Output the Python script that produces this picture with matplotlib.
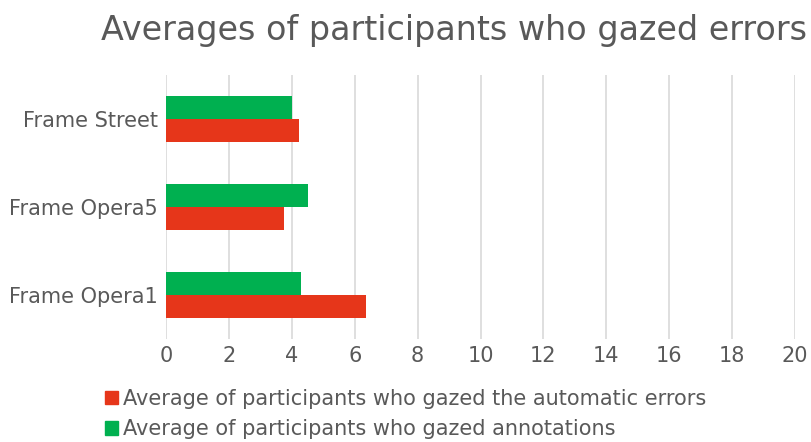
import matplotlib
matplotlib.use("Agg")
import matplotlib.pyplot as plt
import numpy as np
from matplotlib.patches import Patch

categories = ["Frame Opera1", "Frame Opera5", "Frame Street"]
automatic_errors = [6.36, 3.74, 4.23]
annotations = [4.30, 4.52, 4.00]
x_ticks = [0, 2, 4, 6, 8, 10, 12, 14, 16, 18, 20]

red = "#E6361A"
green = "#00B050"
text_gray = "#595959"

fig = plt.figure(figsize=(8.11, 4.42), dpi=100)
ax = fig.add_axes([0.2047, 0.232, 0.7756, 0.5994])

y = np.arange(len(categories))
h = 0.26
ax.barh(y - h / 2, automatic_errors, height=h, color=red, zorder=3)
ax.barh(y + h / 2, annotations, height=h, color=green, zorder=3)

ax.set_xlim(0, 20)
ax.set_ylim(-0.5, len(categories) - 0.5)
ax.set_xticks(x_ticks)
ax.set_yticks(y)
ax.set_yticklabels(categories)
ax.tick_params(axis="both", length=0, labelsize=15, colors=text_gray)
ax.tick_params(axis="x", pad=5)
ax.tick_params(axis="y", pad=6)
ax.grid(axis="x", color="#D9D9D9", linewidth=1.2, zorder=0)
for s in ax.spines.values():
    s.set_visible(False)

fig.text(454 / 811, 0.932, "Averages of participants who gazed errors",
         ha="center", va="center", fontsize=24, color=text_gray)

handles = [Patch(color=red), Patch(color=green)]
labels = ["Average of participants who gazed the automatic errors",
          "Average of participants who gazed annotations"]
fig.legend(handles, labels, loc="center left", bbox_to_anchor=(105 / 811, 0.063),
           frameon=False, fontsize=15, labelcolor=text_gray,
           handlelength=0.62, handleheight=0.62, handletextpad=0.25,
           labelspacing=0.5, borderpad=0, borderaxespad=0)

fig.savefig("out.png", dpi=100)
